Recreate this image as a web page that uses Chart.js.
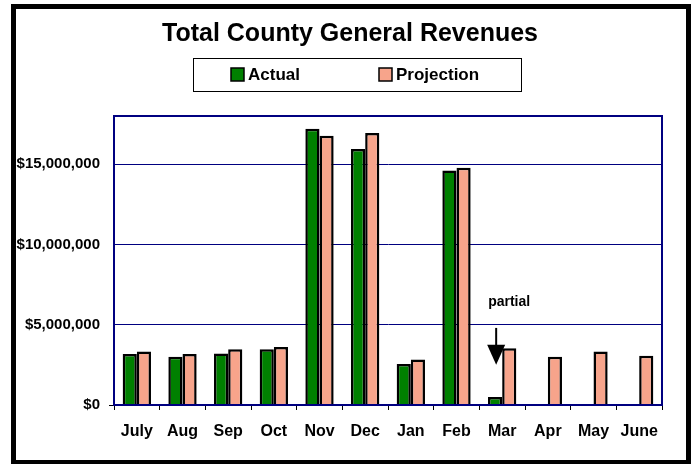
<!DOCTYPE html>
<html>
<head>
<meta charset="utf-8">
<script src="https://cdn.jsdelivr.net/npm/chart.js@4"></script>
<style>
  html, body { margin: 0; padding: 0; background: #fff; }
  #wrap { width: 693px; height: 464px; }
</style>
</head>
<body>
<div id="wrap"><canvas id="revChart" width="693" height="464"></canvas></div>
<script>
// months of the fiscal year
let months = ['July', 'Aug', 'Sep', 'Oct', 'Nov', 'Dec', 'Jan', 'Feb', 'Mar', 'Apr', 'May', 'June']
// (dollars)
let actual = [3170000, 3000000, 3200000, 3480000, 17200000, 15940000, 2560000, 14600000, 500000, 40000, null, null]
let projection = [3330000, 3170000, 3480000, 3620000, 16770000, 16940000, 2830000, 14770000, 3540000, 3000000, 3330000, 3060000]
let yTicks = [0, 5000000, 10000000, 15000000]
let chartTitle = 'Total County General Revenues'

let FONT = 'Arial, "Liberation Sans", sans-serif'
let NAVY = '#000080'

// outer black frame, plot box and the title
let framePlugin = {
  id: 'frame',
  beforeDraw(chart) {
    let c = chart.ctx
    c.save()
    c.fillStyle = '#fff'
    c.fillRect(0, 0, chart.width, chart.height)
    c.restore()
  },
  afterDraw(chart) {
    let c = chart.ctx, a = chart.chartArea
    c.save()
    c.strokeStyle = NAVY
    c.lineWidth = 2
    c.strokeRect(a.left, a.top, a.right - a.left, a.bottom - a.top)
    c.strokeStyle = '#000'
    c.lineWidth = 5
    c.strokeRect(13.5, 6.5, 675, 456)
    c.fillStyle = '#000'
    c.font = 'bold 25px ' + FONT
    c.textAlign = 'center'
    c.textBaseline = 'middle'
    c.fillText(chartTitle, 350, 34)
    c.restore()
  }
}

// legend in a bordered box, like the excel one
let boxLegend = {
  id: 'boxLegend',
  afterDraw(chart) {
    let c = chart.ctx
    c.save()
    c.strokeStyle = '#000'
    c.lineWidth = 1
    c.strokeRect(193.5, 58.5, 328, 33)
    let xs = [231, 379]
    chart.data.datasets.forEach((ds, i) => {
      c.fillStyle = ds.backgroundColor
      c.fillRect(xs[i], 68, 13, 13)
      c.lineWidth = 1.5
      c.strokeRect(xs[i], 68, 13, 13)
      c.fillStyle = '#000'
      c.font = 'bold 17px ' + FONT
      c.textBaseline = 'middle'
      c.fillText(ds.label, xs[i] + 17, 75.5)
    })
    c.restore()
  }
}

// "partial" note with arrow pointing at March actual
let partialNote = {
  id: 'partialNote',
  beforeDatasetsDraw(chart) {
    let c = chart.ctx, x = chart.scales.x, y = chart.scales.y
    let px = x.getPixelForValue(8) - 6
    let top = y.getPixelForValue(4800000)
    let tip = y.getPixelForValue(2500000)
    c.save()
    c.strokeStyle = '#000'
    c.lineWidth = 2
    c.beginPath()
    c.moveTo(px, top)
    c.lineTo(px, tip - 10)
    c.stroke()
    c.fillStyle = '#000'
    c.beginPath()
    c.moveTo(px - 9, tip - 20)
    c.lineTo(px + 9, tip - 20)
    c.lineTo(px, tip)
    c.closePath()
    c.fill()
    c.font = 'bold 14px ' + FONT
    c.textAlign = 'center'
    c.textBaseline = 'middle'
    c.fillText('partial', px + 13, y.getPixelForValue(6400000))
    c.restore()
  }
}

let ctx = document.getElementById('revChart').getContext('2d')
let myChart = new Chart(ctx, {
  type: 'bar',
  data: {
    labels: months,
    datasets: [
      {
        label: 'Actual',
        data: actual,
        backgroundColor: '#008000',
        borderColor: '#000',
        borderWidth: 2.5,
        borderSkipped: 'bottom'
      },
      {
        label: 'Projection',
        data: projection,
        backgroundColor: '#F7A48B',
        borderColor: '#000',
        borderWidth: 2.5,
        borderSkipped: 'bottom'
      }
    ]
  },
  options: {
    responsive: false,
    animation: false,
    layout: { padding: { top: 116, left: 15, right: 31, bottom: 14 } },
    categoryPercentage: 0.62,
    barPercentage: 1.0,
    plugins: {
      legend: { display: false },
      tooltip: { enabled: false },
      title: { display: false }
    },
    scales: {
      x: {
        grid: { display: true, drawOnChartArea: false, tickLength: 5, color: '#000', offset: true },
        border: { display: true, color: NAVY, width: 2 },
        ticks: { color: '#000', padding: 12, font: { family: FONT, size: 16, weight: 'bold' }, maxRotation: 0 },
        afterFit(axis) { axis.height = 45 }
      },
      y: {
        min: 0,
        max: 18000000,
        afterBuildTicks(axis) { axis.ticks = yTicks.map(v => ({ value: v })) },
        grid: {
          color: NAVY,
          lineWidth: 1,
          tickLength: 5,
          tickColor: (c) => c.tick && c.tick.value === 0 ? '#000' : 'rgba(0,0,0,0)'
        },
        border: { display: true, color: NAVY, width: 2 },
        ticks: {
          color: '#000',
          padding: 9,
          font: { family: FONT, size: 15, weight: 'bold' },
          callback: (v) => '$' + Number(v).toLocaleString('en-US')
        },
        afterFit(axis) { axis.width = 99 }
      }
    }
  },
  plugins: [framePlugin, boxLegend, partialNote]
})
</script>
</body>
</html>
